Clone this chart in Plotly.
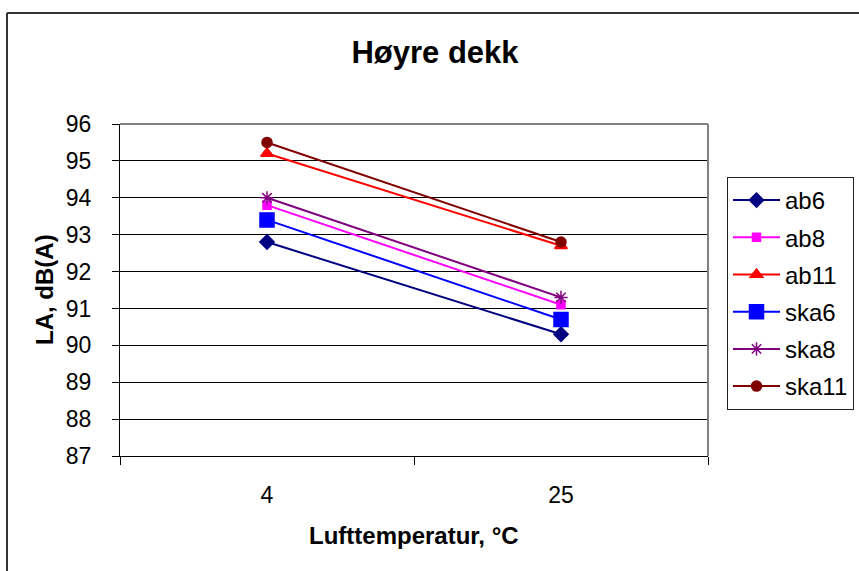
import plotly.graph_objects as go

categories = ["4", "25"]
ab6 = [92.8, 90.3]
ab8 = [93.8, 91.1]
ab11 = [95.2, 92.7]
ska6 = [93.4, 90.7]
ska8 = [94.0, 91.3]
ska11 = [95.5, 92.8]
y_ticks = list(range(87, 97))

names = ["ab6", "ab8", "ab11", "ska6", "ska8", "ska11"]
values = [ab6, ab8, ab11, ska6, ska8, ska11]
colors = ["#000080", "#FF00FF", "#FF0000", "#0000FF", "#800080", "#800000"]
symbols = ["diamond", "square", "triangle-up", "square", "asterisk-open", "circle"]
sizes = [11, 8, 11, 14, 11, 10]

FONT = "Liberation Sans, Arial, sans-serif"

fig = go.Figure()
for n, v, c, s, sz in zip(names, values, colors, symbols, sizes):
    fig.add_trace(go.Scatter(
        x=categories, y=v, name=n, mode="lines+markers",
        legendgroup=n,
        line=dict(color=c, width=2),
        marker=dict(symbol=s, size=sz, color=c, line=dict(color=c, width=1.5)),
    ))

W, H = 859, 571
L, R, T, B = 120, 708, 124, 456
pw, ph = R - L, B - T

def px(x):
    return (x - L) / pw

def py(y):
    return (B - y) / ph

shapes = [
    dict(type="line", xref="paper", yref="paper", x0=0, x1=1, y0=1, y1=1,
         line=dict(color="#808080", width=2)),
    dict(type="line", xref="paper", yref="paper", x0=1, x1=1, y0=0, y1=1,
         line=dict(color="#808080", width=2)),
    dict(type="line", xref="paper", yref="paper", x0=px(7), x1=px(880), y0=py(13), y1=py(13),
         line=dict(color="#333333", width=2)),
    dict(type="line", xref="paper", yref="paper", x0=px(7), x1=px(7), y0=py(13), y1=py(590),
         line=dict(color="#333333", width=2)),
]

annotations = [
    dict(text="<b>LA, dB(A)</b>", xref="paper", yref="paper", x=px(44), y=0.5,
         textangle=-90, showarrow=False, xanchor="center", yanchor="middle",
         font=dict(family=FONT, size=24, color="black")),
    dict(text="<b>Lufttemperatur, °C</b>", xref="paper", yref="paper", x=px(414), y=py(535),
         showarrow=False, xanchor="center", yanchor="middle",
         font=dict(family=FONT, size=24, color="black")),
]

fig.update_layout(
    width=W, height=H, autosize=False,
    margin=dict(l=L, r=W - R, t=T, b=H - B, autoexpand=False),
    paper_bgcolor="white", plot_bgcolor="white",
    font=dict(family=FONT, size=23, color="black"),
    title=dict(text="<b>Høyre dekk</b>", x=435 / W, xref="container", xanchor="center",
               y=1 - 52 / H, yref="container", yanchor="middle",
               font=dict(family=FONT, size=31, color="black")),
    showlegend=True,
    legend=dict(x=727 / W, y=1 - 177 / H, xref="container", yref="container",
                xanchor="left", yanchor="top",
                bgcolor="white", bordercolor="#222222", borderwidth=1,
                font=dict(family=FONT, size=24, color="black"),
                tracegroupgap=3, itemwidth=47, itemclick=False),
    xaxis=dict(type="category", tickson="boundaries", ticks="outside", ticklen=8,
               tickcolor="black", showline=True, linecolor="black", linewidth=1,
               showgrid=False, ticklabelstandoff=18,
               tickfont=dict(family=FONT, size=23, color="black"), range=[-0.5, 1.5]),
    yaxis=dict(range=[87, 96], tickvals=y_ticks, ticks="outside", ticklen=7,
               tickcolor="black", showline=True, linecolor="black", linewidth=1,
               showgrid=True, gridcolor="black", gridwidth=1, zeroline=False,
               ticklabelstandoff=16,
               tickfont=dict(family=FONT, size=23, color="black")),
    shapes=shapes,
    annotations=annotations,
)

fig.write_html("out.html", config={"displayModeBar": False},
               post_script="document.body.style.margin='0';document.body.style.padding='0';")
